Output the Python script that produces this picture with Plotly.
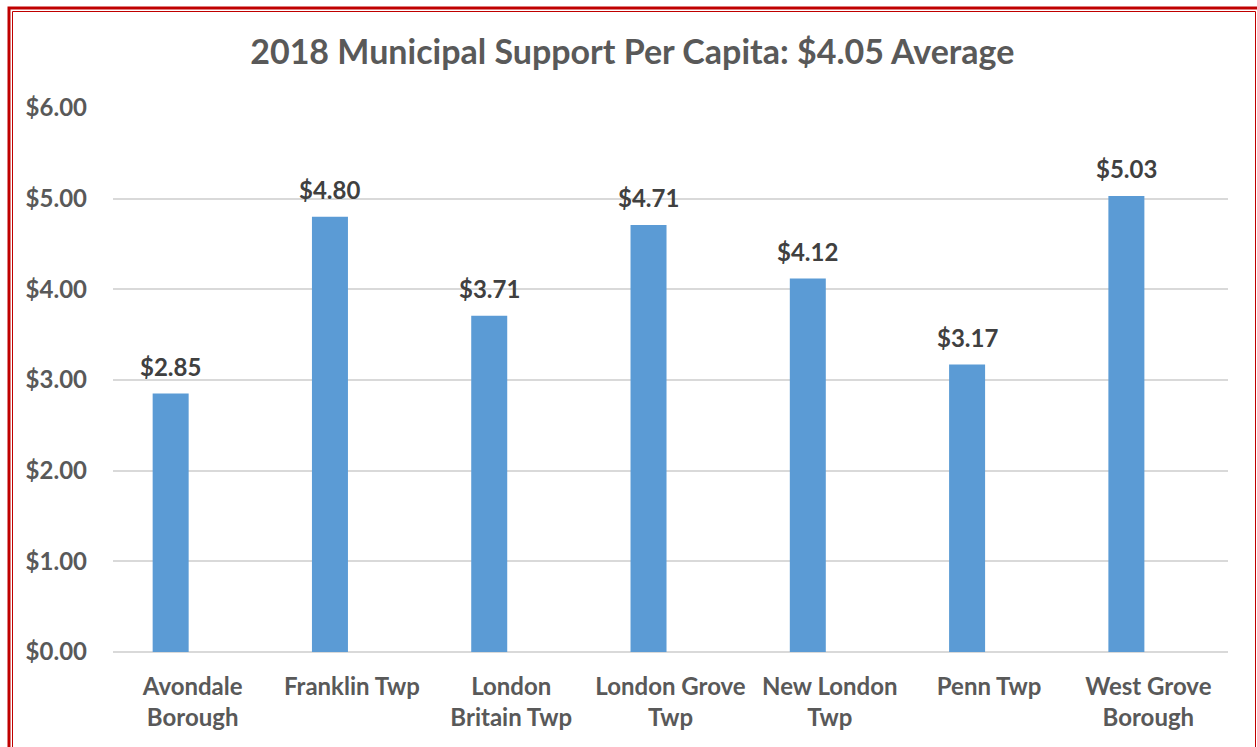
import plotly.graph_objects as go

categories = ["Avondale<br>Borough", "Franklin Twp", "London<br>Britain Twp", "London Grove<br>Twp",
              "New London<br>Twp", "Penn Twp", "West Grove<br>Borough"]
values = [2.85, 4.80, 3.71, 4.71, 4.12, 3.17, 5.03]
tick_vals = [0, 1, 2, 3, 4, 5, 6]
tick_text = ["$0.00", "$1.00", "$2.00", "$3.00", "$4.00", "$5.00", "$6.00"]

W, H = 1257, 747
L, R, T, B = 113, 29, 108, 95
pw, ph = W - L - R, H - T - B

def px(x):
    return (x - L) / pw

def py(y):
    return (H - B - y) / ph

FONT = "Lato"
BAR_W = 0.226
BAR_OFF = -0.251  # bar shifted left of category centre (hidden second series in original)

fig = go.Figure(go.Bar(
    x=categories, y=values,
    marker=dict(color="#5b9bd5", line=dict(width=0)),
    width=BAR_W, offset=BAR_OFF,
    hoverinfo="x+y",
))

cat_w = pw / len(categories)
label_shift = (BAR_OFF + BAR_W / 2) * cat_w
for c, v in zip(categories, values):
    fig.add_annotation(x=c, y=v, text=f"<b>${v:.2f}</b>", showarrow=False,
                       xshift=label_shift, yshift=27, yanchor="middle",
                       font=dict(family=FONT, size=24, color="#404040"))

fig.update_layout(
    width=W, height=H,
    margin=dict(l=L, r=R, t=T, b=B),
    paper_bgcolor="white", plot_bgcolor="white",
    title=dict(text="<b>2018 Municipal Support Per Capita: $4.05 Average</b>",
               x=0.503, xanchor="center", y=1 - 52 / H, yanchor="middle",
               font=dict(family=FONT, size=34, color="#595959")),
    showlegend=False,
    xaxis=dict(showgrid=False, showline=False, ticks="", ticklabelstandoff=18,
               tickfont=dict(family=FONT, size=24, color="#595959", weight="bold")),
    yaxis=dict(range=[0, 6], tickvals=tick_vals, ticktext=tick_text,
               showgrid=True, gridcolor="#d9d9d9", gridwidth=2,
               zeroline=True, zerolinecolor="#d9d9d9", zerolinewidth=2,
               showline=False, ticks="", ticklabelstandoff=25,
               tickfont=dict(family=FONT, size=24, color="#595959", weight="bold")),
    shapes=[
        dict(type="rect", xref="paper", yref="paper",
             x0=px(9), x1=px(1275), y0=py(8), y1=py(770),
             line=dict(color="#c00000", width=3)),
        dict(type="rect", xref="paper", yref="paper",
             x0=px(12.5), x1=px(1255.5), y0=py(11.5), y1=py(770),
             line=dict(color="#c00000", width=1)),
    ],
)

fig.write_html("out.html", config={"displayModeBar": False},
               post_script="document.body.style.margin='0';document.body.style.overflow='hidden';")
